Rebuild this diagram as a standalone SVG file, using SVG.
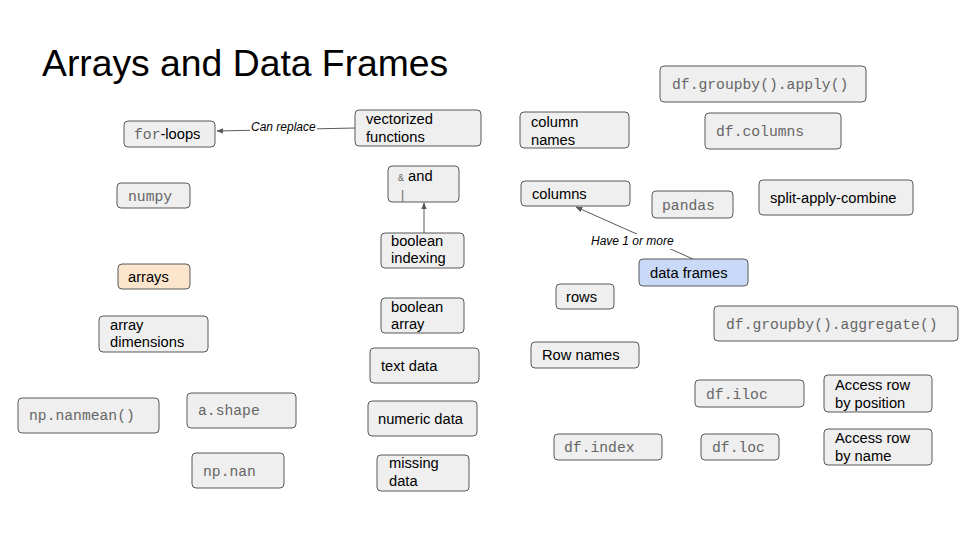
<svg xmlns="http://www.w3.org/2000/svg" width="960" height="540" viewBox="0 0 960 540">
<defs>
<style>
.b{fill:#efefef;stroke:#595959;stroke-width:1}
.s{font-family:"Liberation Sans",Arial,sans-serif;font-size:14.7px;fill:#000}
.m{font-family:"Liberation Mono","Courier New",monospace;font-size:14.7px;fill:#666666}
.l{font-family:"Liberation Sans",Arial,sans-serif;font-size:12px;font-style:italic;fill:#000}
.c{stroke:#595959;stroke-width:1;fill:none}
</style>
<marker id="ar" viewBox="0 0 10 10" refX="9" refY="5" markerWidth="7" markerHeight="7" orient="auto" markerUnits="userSpaceOnUse">
<path d="M0,1 L10,5 L0,9 z" fill="#595959"/>
</marker>
</defs>
<rect width="960" height="540" fill="#fff"/>
<text x="42" y="76" font-family="Liberation Sans,Arial,sans-serif" font-size="37.3" fill="#000">Arrays and Data Frames</text>

<g id="connectors">
<line class="c" x1="355" y1="128" x2="217" y2="131" marker-end="url(#ar)"/>
<rect x="250" y="120" width="67" height="15" fill="#fff"/>
<text class="l" x="251" y="131">Can replace</text>
<line class="c" x1="424" y1="233" x2="424" y2="203" marker-end="url(#ar)"/>
<line class="c" x1="693" y1="259" x2="576" y2="207" marker-end="url(#ar)"/>
<rect x="590" y="234" width="85" height="15" fill="#fff"/>
<text class="l" x="591" y="245">Have 1 or more</text>
</g>

<g id="for-loops"><rect class="b" x="124" y="121" width="91" height="26" rx="4"/><text x="134" y="139"><tspan class="m">for</tspan><tspan class="s">-loops</tspan></text></g>
<g id="vectorized"><rect class="b" x="355" y="110" width="126" height="36" rx="4"/><text class="s" x="366" y="124">vectorized</text><text class="s" x="366" y="142">functions</text></g>
<g id="numpy"><rect class="b" x="117" y="183" width="73" height="25" rx="4"/><text class="m" x="128" y="201">numpy</text></g>
<g id="and-or"><rect class="b" x="388" y="166" width="71" height="36" rx="4"/><text x="398" y="181"><tspan class="m" style="font-size:10px">&amp;</tspan><tspan class="s"> and</tspan></text><text class="m" x="399" y="199" style="font-size:12px">|</text></g>
<g id="boolean-indexing"><rect class="b" x="381" y="233" width="83" height="35" rx="4"/><text class="s" x="391" y="246">boolean</text><text class="s" x="391" y="263">indexing</text></g>
<g id="boolean-array"><rect class="b" x="381" y="298" width="83" height="35" rx="4"/><text class="s" x="391" y="312">boolean</text><text class="s" x="391" y="329">array</text></g>
<g id="text-data"><rect class="b" x="370" y="348" width="109" height="35" rx="4"/><text class="s" x="381" y="371">text data</text></g>
<g id="numeric-data"><rect class="b" x="368" y="401" width="109" height="35" rx="4"/><text class="s" x="378" y="424">numeric data</text></g>
<g id="missing-data"><rect class="b" x="377" y="455" width="92" height="36" rx="4"/><text class="s" x="389" y="468">missing</text><text class="s" x="389" y="486">data</text></g>
<g id="arrays"><rect class="b" style="fill:#fce5cd" x="118" y="264" width="72" height="25" rx="4"/><text class="s" x="128" y="282">arrays</text></g>
<g id="array-dimensions"><rect class="b" x="99" y="316" width="109" height="36" rx="4"/><text class="s" x="110" y="330">array</text><text class="s" x="110" y="347">dimensions</text></g>
<g id="np-nanmean"><rect class="b" x="18" y="398" width="141" height="35" rx="4"/><text class="m" x="29" y="420">np.nanmean()</text></g>
<g id="a-shape"><rect class="b" x="187" y="393" width="109" height="35" rx="4"/><text class="m" x="198" y="415">a.shape</text></g>
<g id="np-nan"><rect class="b" x="192" y="453" width="92" height="35" rx="4"/><text class="m" x="203" y="476">np.nan</text></g>
<g id="column-names"><rect class="b" x="520" y="112" width="109" height="36" rx="4"/><text class="s" x="531" y="127">column</text><text class="s" x="531" y="145">names</text></g>
<g id="columns"><rect class="b" x="521" y="181" width="109" height="25" rx="4"/><text class="s" x="532" y="199">columns</text></g>
<g id="pandas"><rect class="b" x="652" y="191" width="81" height="27" rx="4"/><text class="m" x="662" y="210">pandas</text></g>
<g id="split-apply-combine"><rect class="b" x="759" y="180" width="154" height="35" rx="4"/><text class="s" x="770" y="203">split-apply-combine</text></g>
<g id="groupby-apply"><rect class="b" x="660" y="66" width="206" height="36" rx="4"/><text class="m" x="672" y="89">df.groupby().apply()</text></g>
<g id="df-columns"><rect class="b" x="705" y="113" width="136" height="36" rx="4"/><text class="m" x="716" y="136">df.columns</text></g>
<g id="data-frames"><rect class="b" style="fill:#c9daf8" x="639" y="259" width="109" height="27" rx="4"/><text class="s" x="650" y="278">data frames</text></g>
<g id="rows"><rect class="b" x="556" y="284" width="58" height="25" rx="4"/><text class="s" x="566" y="302">rows</text></g>
<g id="groupby-aggregate"><rect class="b" x="714" y="306" width="244" height="35" rx="4"/><text class="m" x="726" y="329">df.groupby().aggregate()</text></g>
<g id="row-names"><rect class="b" x="531" y="342" width="108" height="26" rx="4"/><text class="s" x="542" y="360">Row names</text></g>
<g id="df-iloc"><rect class="b" x="695" y="380" width="109" height="27" rx="4"/><text class="m" x="706" y="399">df.iloc</text></g>
<g id="access-position"><rect class="b" x="824" y="375" width="108" height="37" rx="4"/><text class="s" x="835" y="390">Access row</text><text class="s" x="835" y="408">by position</text></g>
<g id="df-index"><rect class="b" x="554" y="434" width="108" height="26" rx="4"/><text class="m" x="564" y="452">df.index</text></g>
<g id="df-loc"><rect class="b" x="701" y="434" width="78" height="26" rx="4"/><text class="m" x="712" y="452">df.loc</text></g>
<g id="access-name"><rect class="b" x="824" y="429" width="108" height="36" rx="4"/><text class="s" x="835" y="443">Access row</text><text class="s" x="835" y="461">by name</text></g>
</svg>
